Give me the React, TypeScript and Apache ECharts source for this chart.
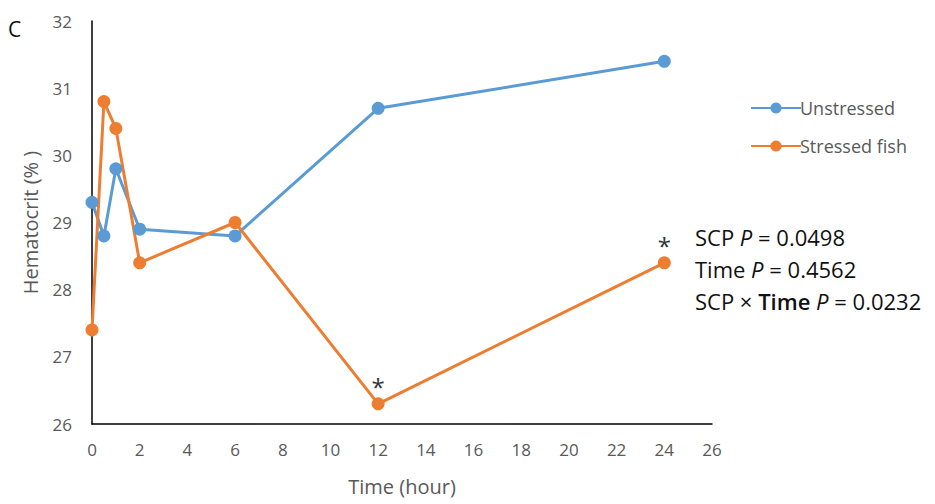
import React, { useEffect, useRef } from "react";
import * as echarts from "echarts";

const timeHours = [0, 0.5, 1, 2, 6, 12, 24];
const unstressed = [29.3, 28.8, 29.8, 28.9, 28.8, 30.7, 31.4];
const stressed = [27.4, 30.8, 30.4, 28.4, 29.0, 26.3, 28.4];
const stressedSignificant = [false, false, false, false, false, true, true];
const statLines = [
  { label: "SCP", p: "0.0498", bold: false },
  { label: "Time", p: "0.4562", bold: false },
  { label: "SCP × Time", p: "0.0232", bold: true },
];

const BLUE = "#5B9BD5";
const ORANGE = "#ED7D31";
const FONT = "'Open Sans', sans-serif";

export default function App() {
  const ref = useRef<HTMLDivElement>(null);
  useEffect(() => {
    document.body.style.margin = "0";
    if (!ref.current) return;
    const chart = echarts.init(ref.current, undefined, { renderer: "svg" });
    const statTexts = statLines.map((s, i) => ({
      type: "text",
      left: 695,
      top: 226 + i * 32,
      style: {
        text: s.bold
          ? `{n|SCP × }{b|Time }{i|P}{n| = ${s.p}}`
          : `{n|${s.label} }{i|P}{n| = ${s.p}}`,
        rich: {
          n: { fontSize: 22, fontFamily: FONT, fill: "#111" },
          b: { fontSize: 22, fontFamily: FONT, fill: "#111", fontWeight: 600 },
          i: { fontSize: 22, fontFamily: FONT, fill: "#111", fontStyle: "italic" },
        },
      },
    }));
    chart.setOption({
      animation: false,
      backgroundColor: "#fff",
      grid: { left: 92, right: 223, top: 21, bottom: 80, containLabel: false },
      xAxis: {
        type: "value",
        min: 0,
        max: 26,
        interval: 2,
        name: "Time (hour)",
        nameLocation: "middle",
        nameGap: 52,
        nameTextStyle: { fontSize: 20, color: "#595959", fontFamily: FONT },
        axisLine: { show: true, onZero: false, lineStyle: { color: "#000", width: 1.5 } },
        axisTick: { show: false },
        splitLine: { show: false },
        axisLabel: { fontSize: 17, color: "#595959", fontFamily: FONT, margin: 17 },
      },
      yAxis: {
        type: "value",
        min: 26,
        max: 32,
        interval: 1,
        name: "Hematocrit (% )",
        nameLocation: "middle",
        nameGap: 52,
        nameTextStyle: { fontSize: 20, color: "#595959", fontFamily: FONT },
        axisLine: { show: true, onZero: false, lineStyle: { color: "#000", width: 1.5 } },
        axisTick: { show: false },
        splitLine: { show: false },
        axisLabel: { fontSize: 17, color: "#595959", fontFamily: FONT, margin: 20 },
      },
      legend: {
        orient: "vertical",
        left: 745,
        top: 94,
        itemWidth: 50,
        itemHeight: 14,
        itemGap: 20,
        textStyle: { fontSize: 18, color: "#595959", fontFamily: FONT, padding: [0, 0, 0, -6] },
        data: ["Unstressed", "Stressed fish"],
      },
      series: [
        {
          name: "Unstressed",
          type: "line",
          data: timeHours.map((t, i) => [t, unstressed[i]]),
          symbol: "circle",
          symbolSize: 13,
          lineStyle: { color: BLUE, width: 3 },
          itemStyle: { color: BLUE },
        },
        {
          name: "Stressed fish",
          type: "line",
          data: timeHours.map((t, i) =>
            stressedSignificant[i]
              ? {
                  value: [t, stressed[i]],
                  label: {
                    show: true,
                    formatter: "*",
                    position: "top",
                    distance: -1,
                    fontSize: 24,
                    color: "#333",
                    fontFamily: FONT,
                  },
                }
              : [t, stressed[i]]
          ),
          symbol: "circle",
          symbolSize: 13,
          lineStyle: { color: ORANGE, width: 3 },
          itemStyle: { color: ORANGE },
        },
      ],
      graphic: [
        {
          type: "text",
          left: 8,
          top: 18,
          style: { text: "C", fontSize: 21, fontFamily: FONT, fill: "#111" },
        },
        ...statTexts,
      ],
    });
    return () => chart.dispose();
  }, []);
  return <div ref={ref} style={{ width: 935, height: 504 }} />;
}
